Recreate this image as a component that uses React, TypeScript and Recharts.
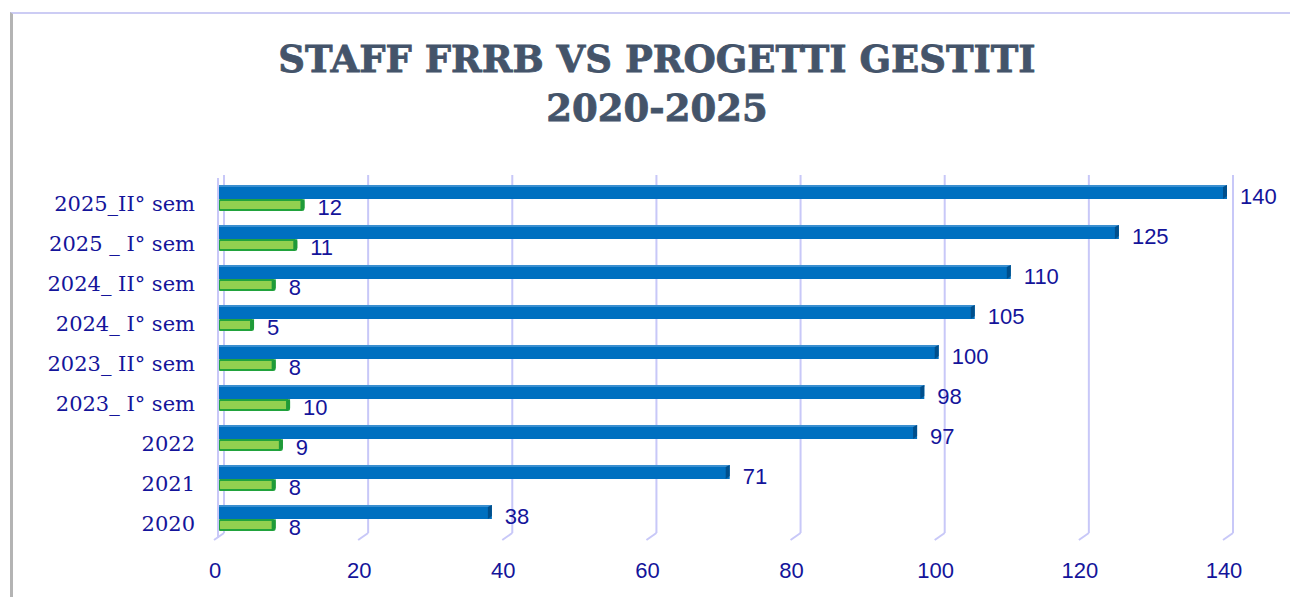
import React from 'react'
import { BarChart, Bar, XAxis, YAxis, CartesianGrid, LabelList } from 'recharts'

const categories = [
    '2025_II° sem',
    '2025 _ I° sem',
    '2024_ II° sem',
    '2024_ I° sem',
    '2023_ II° sem',
    '2023_ I° sem',
    '2022',
    '2021',
    '2020',
]
const progetti = [140, 125, 110, 105, 100, 98, 97, 71, 38]
const staff = [12, 11, 8, 5, 8, 10, 9, 8, 8]
const xTicks = [0, 20, 40, 60, 80, 100, 120, 140]

const data = categories.map((name, i) => ({ name, progetti: progetti[i], staff: staff[i] }))

const navy = '#14149a'
const gridColor = '#c8c8f8'
const serif = '"DejaVu Serif", serif'
const sans = '"Liberation Sans", Arial, sans-serif'

const BlueBar = (props: any) => {
    const { x, y, width, height } = props
    if (!width || width <= 0) return null
    return (
        <g>
            <rect x={x} y={y} width={width} height={height} fill="#0070c0" />
            <rect x={x} y={y} width={width} height={2} fill="#3a8fd0" />
            <polygon points={`${x + width - 4},${y + 2} ${x + width},${y} ${x + width},${y + height - 3} ${x + width - 4},${y + height}`} fill="#004f8c" />
        </g>
    )
}

const GreenBar = (props: any) => {
    const { x, y, width, height } = props
    if (!width || width <= 0) return null
    return (
        <g>
            <rect x={x + 1} y={y + 1} width={width - 2} height={height - 2} fill="#92d050" stroke="#21a33d" strokeWidth={2} rx={1.5} />
            <polygon points={`${x + width - 4},${y + 2} ${x + width},${y} ${x + width},${y + height - 3} ${x + width - 4},${y + height}`} fill="#1f9a38" />
        </g>
    )
}

// back-wall gridline with a short diagonal "floor" segment, like the 3D excel chart
const GridLine = (props: any) => {
    const { x1, y1, y2 } = props
    const bx = x1 + 6
    return (
        <g>
            <line x1={bx} y1={y1 - 3} x2={bx} y2={y2 - 5} stroke={gridColor} strokeWidth={2} />
            <line x1={bx} y1={y2 - 5} x2={bx - 10} y2={y2 + 2} stroke={gridColor} strokeWidth={2} />
        </g>
    )
}

const App: React.FC = () => {
    return (
        <div style={{ position: 'absolute', left: 0, top: 0, width: 1290, height: 597, background: '#fff', overflow: 'hidden' }}>
            <div style={{ position: 'absolute', left: 10, top: 12, width: 1280, height: 585, borderTop: '2px solid #ccccf4', borderLeft: '3px solid #b4b4b4' }} />
            <div style={{ position: 'absolute', left: 0, top: 35, width: 1314, textAlign: 'center', fontFamily: serif, fontWeight: 'bold', fontSize: 37, lineHeight: '49px', color: '#44546a', WebkitTextStroke: '0.8px #44546a' }}>
                STAFF FRRB VS PROGETTI GESTITI
                <br />
                2020-2025
            </div>
            <div style={{ position: 'absolute', left: 0, top: 0 }}>
                <BarChart
                    width={1290}
                    height={597}
                    data={data}
                    layout="vertical"
                    margin={{ top: 178, right: 63, bottom: 19, left: 0 }}
                    barCategoryGap={0}
                    barGap={0}
                >
                    <CartesianGrid horizontal={false} vertical={GridLine} />
                    <XAxis
                        type="number"
                        domain={[0, 140]}
                        ticks={xTicks}
                        axisLine={false}
                        tickLine={false}
                        tickSize={0}
                        tickMargin={24}
                        height={40}
                        dx={-3}
                        tick={{ fill: navy, fontSize: 22, fontFamily: sans }}
                    />
                    <YAxis
                        type="category"
                        dataKey="name"
                        width={218}
                        axisLine={{ stroke: gridColor, strokeWidth: 2 }}
                        tickLine={false}
                        tickSize={0}
                        tickMargin={23}
                        interval={0}
                        dy={6}
                        tick={{ fill: navy, fontSize: 21, fontFamily: serif }}
                    />
                    <Bar dataKey="progetti" barSize={14} shape={BlueBar} isAnimationActive={false}>
                        <LabelList dataKey="progetti" position="right" offset={13} fill={navy} fontSize={22} fontFamily={sans} dy={4} />
                    </Bar>
                    <Bar dataKey="staff" barSize={12} shape={GreenBar} isAnimationActive={false}>
                        <LabelList dataKey="staff" position="right" offset={13} fill={navy} fontSize={22} fontFamily={sans} dy={2} />
                    </Bar>
                </BarChart>
            </div>
        </div>
    )
}

export default App
